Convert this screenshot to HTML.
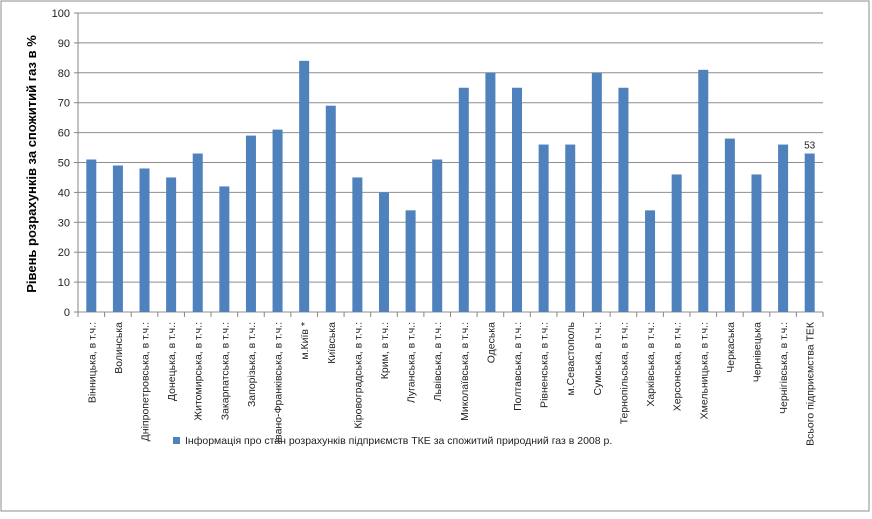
<!DOCTYPE html>
<html><head><meta charset="utf-8"><style>
body{margin:0;background:#fff;font-family:"Liberation Sans","DejaVu Sans",sans-serif}
</style></head><body>
<svg width="872" height="514" id="c" xmlns="http://www.w3.org/2000/svg">
<rect x="1" y="1" width="868" height="510" fill="#fff" stroke="#8c8c8c"/>
<g id="grid"></g><g id="bars"></g><g id="xl"></g><g id="yl"></g>
<text transform="translate(36,164) rotate(-90)" text-anchor="middle" font-size="13" font-weight="bold" fill="#000">Рівень розрахунків за спожитий газ в %</text>
<rect x="173" y="437" width="7" height="7" fill="#4f81bd"/>
<text x="185" y="444" font-size="10.5" fill="#222">Інформація про стан розрахунків підприємств ТКЕ за спожитий природний газ в 2008 р.</text>
</svg>
<script>
const categories=["Вінницька, в т.ч.:","Волинська","Дніпропетровська, в т.ч.:","Донецька, в т.ч.:","Житомирська, в т.ч.:","Закарпатська, в т.ч.:","Запорізька, в т.ч.:","Івано-Франківська, в т.ч.:","м.Київ *","Київська","Кіровоградська, в т.ч.:","Крим, в т.ч.:","Луганська, в т.ч.:","Львівська, в т.ч.:","Миколаївська, в т.ч.:","Одеська","Полтавська, в т.ч.:","Рівненська, в т.ч.:","м.Севастополь","Сумська, в т.ч.:","Тернопільська, в т.ч.:","Харківська, в т.ч.:","Херсонська, в т.ч.:","Хмельницька, в т.ч.:","Черкаська","Чернівецька","Чернігівська, в т.ч.:","Всього підприємства ТЕК"];
const values=[51,49,48,45,53,42,59,61,84,69,45,40,34,51,75,80,75,56,56,80,75,34,46,81,58,46,56,53];
const yTicks=[0,10,20,30,40,50,60,70,80,90,100];
const dataLabels=[null,null,null,null,null,null,null,null,null,null,null,null,null,null,null,null,null,null,null,null,null,null,null,null,null,null,null,"53"];
const NS="http://www.w3.org/2000/svg";
const X0=78,X1=823,Y0=312,Y1=13;
const band=(X1-X0)/categories.length;
const y=v=>Y0-(v/100)*(Y0-Y1);
const xc=i=>X0+band*(i+0.5);
function mk(t,a,p){const e=document.createElementNS(NS,t);for(const k in a)e.setAttribute(k,a[k]);document.getElementById(p).appendChild(e);return e;}
yTicks.forEach(t=>{
 const g=mk('line',{x1:X0,x2:X1,y1:y(t),y2:y(t),stroke:'#8e8e8e','stroke-width':1},'grid');
 
 
 const tk=mk('line',{x1:X0-4,x2:X0,y1:y(t),y2:y(t),stroke:'#868686'},'grid');
 
 
 const l=mk('text',{x:X0-8,y:y(t)+4,'text-anchor':'end','font-size':11,fill:'#222'},'yl');
 l.textContent=t;
 
 
});
const ax=mk('line',{x1:X0,x2:X0,y1:Y1,y2:Y0+4,stroke:'#868686'},'grid');


for(let i=0;i<=categories.length;i++){
 const t=mk('line',{x1:X0+band*i,x2:X0+band*i,y1:Y0,y2:Y0+5,stroke:'#868686'},'grid');
 
 
}
values.forEach((v,i)=>{
 const b=mk('rect',{x:xc(i)-5,y:y(v),width:10,height:Y0-y(v),fill:'#4f81bd'},'bars');
 
 
 if(dataLabels[i]){const d=mk('text',{x:xc(i),y:y(v)-5,'text-anchor':'middle','font-size':10,fill:'#222'},'bars');d.textContent=dataLabels[i];
 
 }
 const l=mk('text',{transform:`translate(${xc(i)+4},322) rotate(-90)`,'text-anchor':'end','font-size':10.5,fill:'#222'},'xl');
 l.textContent=categories[i];
 
 
});
</script>
</body></html>
